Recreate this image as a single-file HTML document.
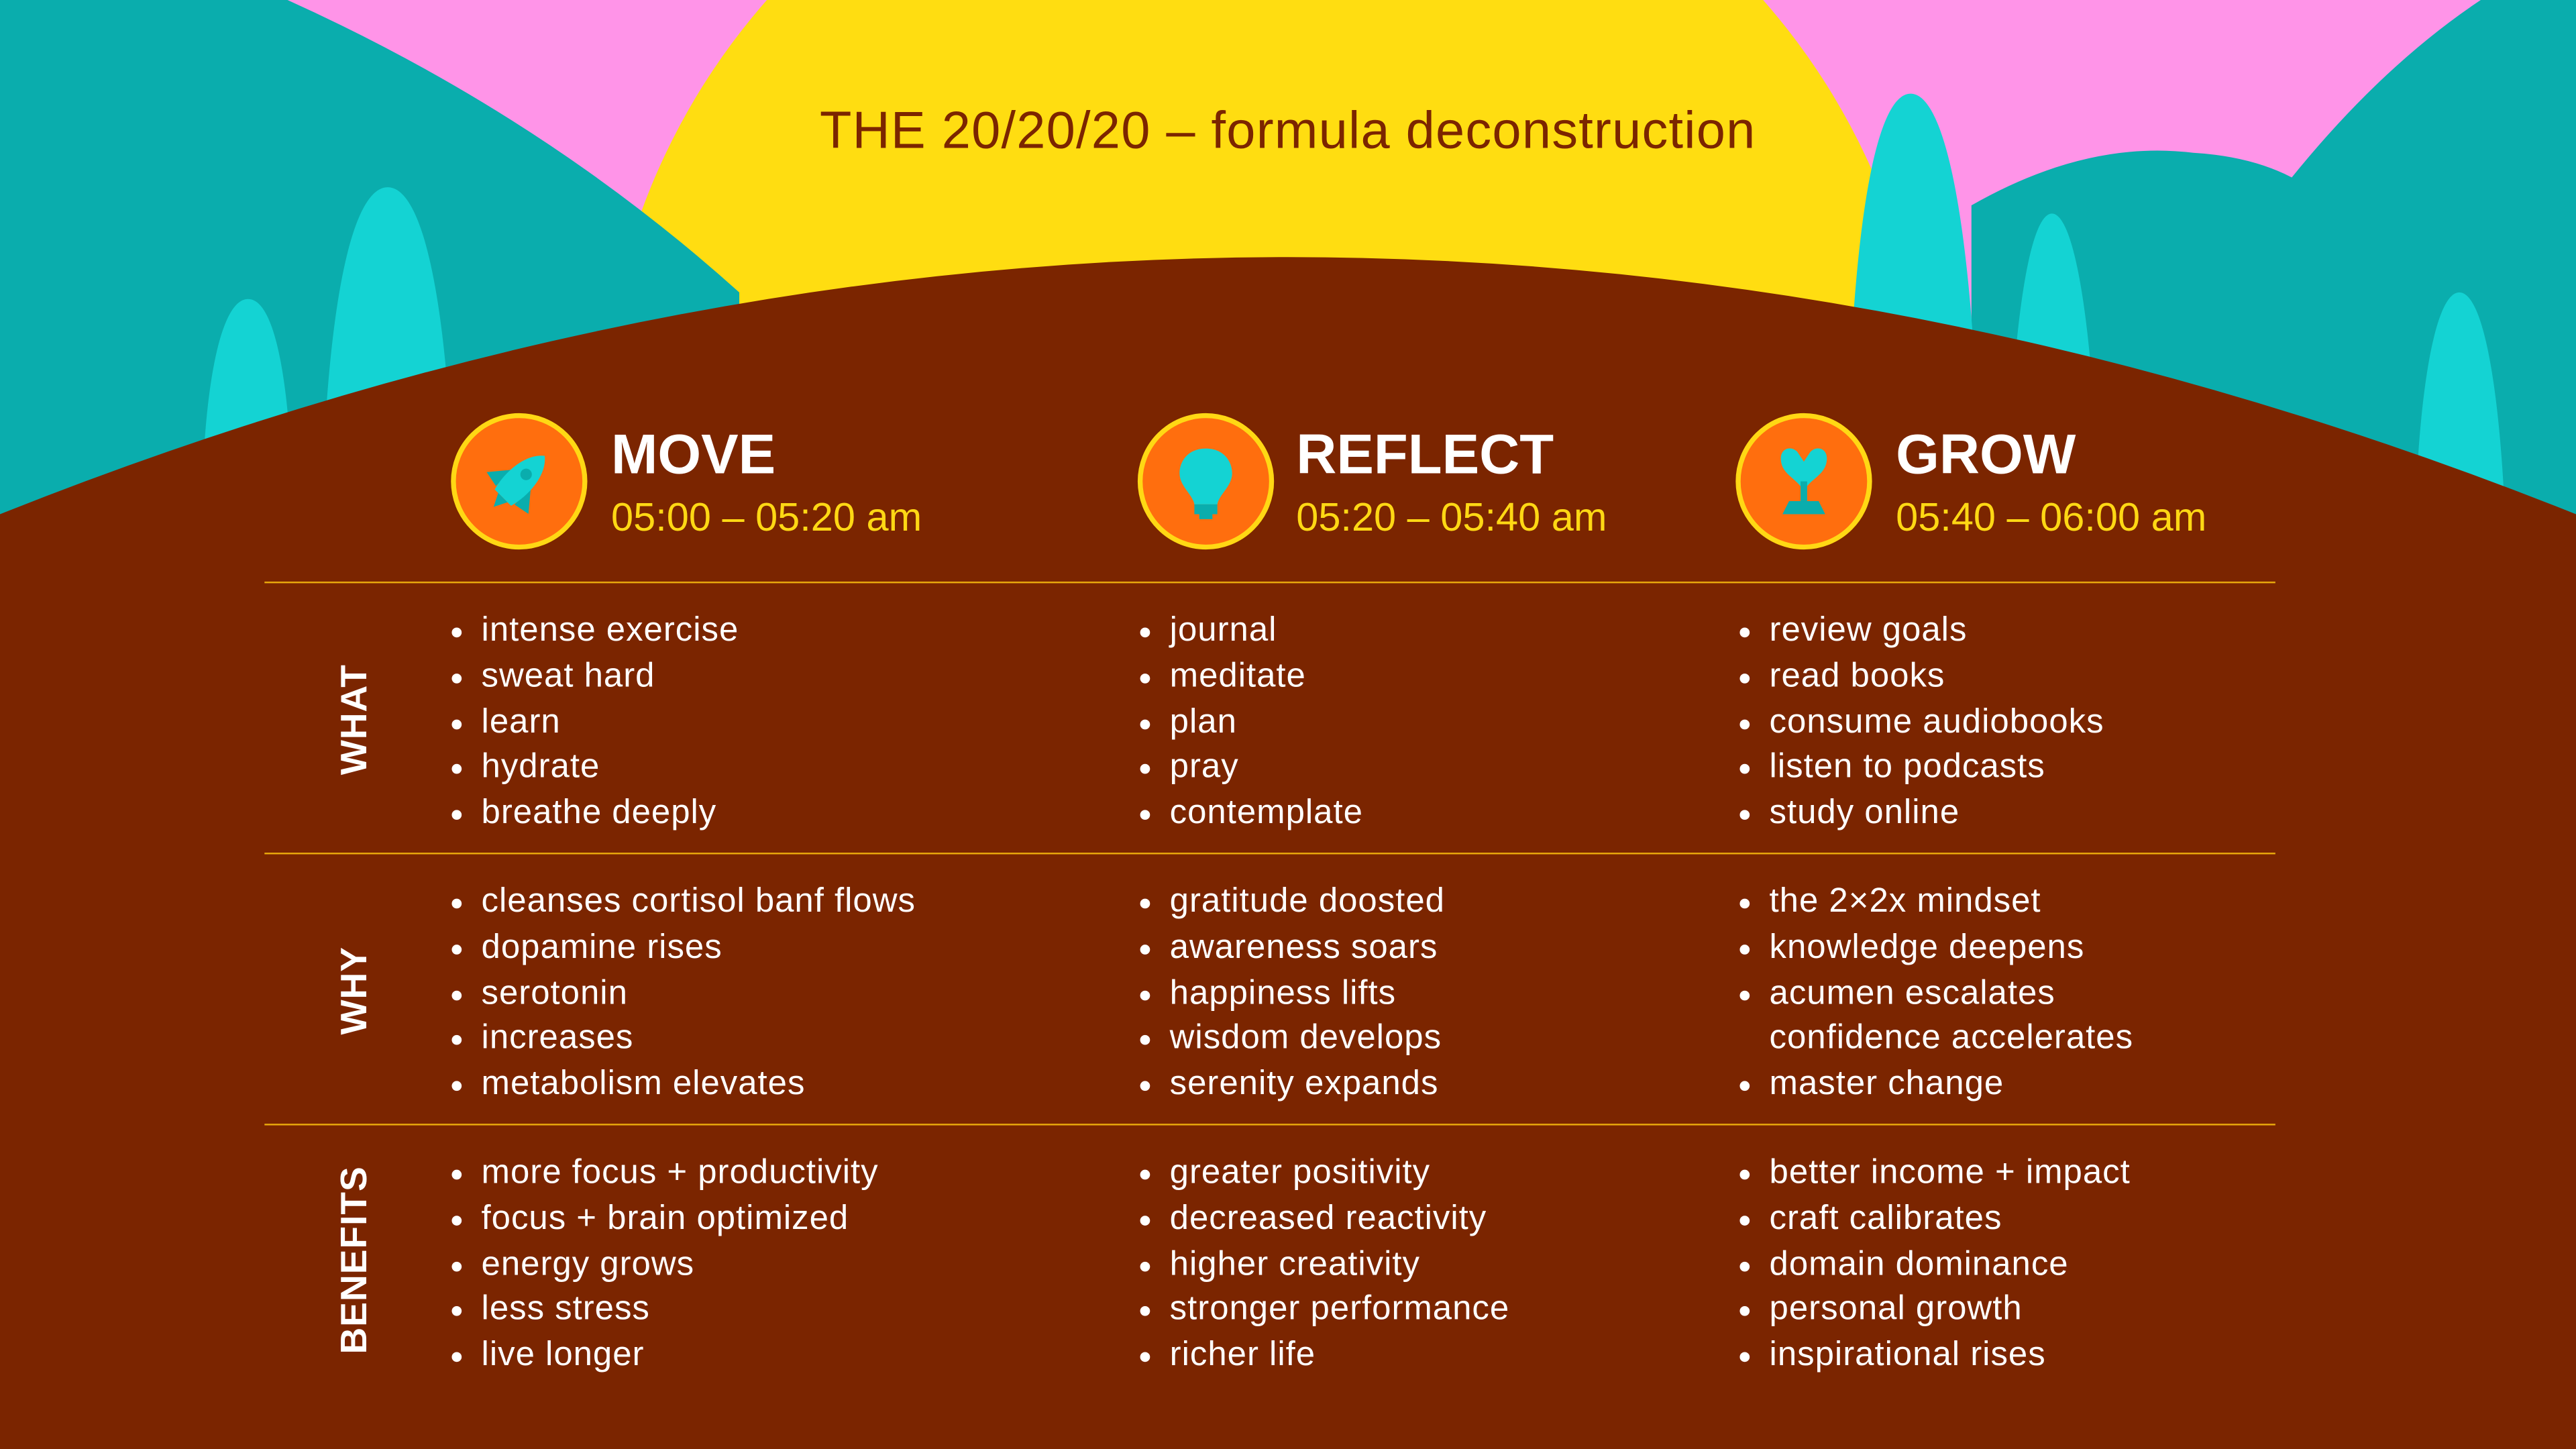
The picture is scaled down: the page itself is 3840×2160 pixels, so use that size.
<!DOCTYPE html>
<html><head><meta charset="utf-8"><style>
html,body{margin:0;padding:0;overflow:hidden;background:#FF94E8}
#s{position:absolute;left:0;top:0;width:1568px;height:882px;transform:scale(2.44898);transform-origin:0 0;font-family:"Liberation Sans",sans-serif}
.t{position:absolute;white-space:nowrap}
.h{font-weight:bold;color:#fff;font-size:34px;top:258px}
.tm{color:#FFD814;font-size:24.3px;top:302px}
.ln{position:absolute;left:161px;width:1224px;height:1px;background:#E8A80C}
.lab{position:absolute;left:216px;color:#fff;font-weight:bold;font-size:22.5px;letter-spacing:0.4px;transform:translate(-50%,-50%) rotate(-90deg);white-space:nowrap}
ul{position:absolute;margin:0;padding:0;list-style:none;color:#fff;font-size:20.8px;letter-spacing:0.4px;line-height:27.8px}
li{position:relative;padding-left:16px;white-space:nowrap}
li:before{content:"";position:absolute;left:-2px;top:12px;width:6px;height:6px;border-radius:50%;background:#fff}
li.n:before{display:none}
</style></head><body><div id="s">
<svg width="1568" height="882" style="position:absolute;left:0;top:0">
<circle cx="770" cy="267" r="404" fill="#FFDD11"/>
<path d="M0,0 L175,0 Q330,70 450,178 L450,420 L0,420 Z" fill="#0AADAD"/>
<path d="M1510,0 L1568,0 L1568,420 L1200,420 L1200,125 Q1270,85 1335,93 Q1370,95 1395,108 Q1450,40 1510,0 Z" fill="#0AADAD"/>
<g fill="#14D3D3">
<path d="M123,300 C125,230 135,182 151,182 C167,182 176,230 178,300 Z"/>
<path d="M196,300 C200,180 215,114 236,114 C257,114 272,180 276,300 Z"/>
<path d="M1124,300 C1126,150 1140,57 1163,57 C1186,57 1202,150 1205,300 Z"/>
<path d="M1222,300 C1225,200 1235,130 1249,130 C1263,130 1274,200 1277,300 Z"/>
<path d="M1470,320 C1472,240 1482,178 1497,178 C1512,178 1522,240 1525,320 Z"/>
</g>
<path d="M0,313 Q784,0 1568,313 L1568,882 L0,882 Z" fill="#7B2500"/>
<g stroke="#FFD814" stroke-width="3" fill="#FF6E0E">
<circle cx="316" cy="293" r="40"/><circle cx="734" cy="293" r="40"/><circle cx="1098" cy="293" r="40"/>
</g>
<g transform="translate(316,293) rotate(45)">
<path d="M-8,-2 L-18,10 L-8,12 Z M8,-2 L18,10 L8,12 Z" fill="#0AADAD"/>
<path d="M0,-22 C10,-14 10,4 7,14 L-7,14 C-10,4 -10,-14 0,-22 Z" fill="#14D3D3"/>
<circle cx="0" cy="-6" r="3.5" fill="#0AADAD"/>
<path d="M-4,14 L0,22 L4,14 Z" fill="#0AADAD"/>
</g>
<g transform="translate(734,293)">
<path d="M0,-20 C11,-20 16,-12 16,-5 C16,3 8,8 7,14 L-7,14 C-8,8 -16,3 -16,-5 C-16,-12 -11,-20 0,-20 Z" fill="#14D3D3"/>
<rect x="-7" y="14" width="14" height="6" fill="#0AADAD"/><rect x="-4" y="20" width="8" height="3" fill="#0AADAD"/>
</g>
<g transform="translate(1098,293)">
<path d="M0,6 C-4,-2 -14,-4 -14,-14 C-14,-20 -8,-22 -4,-18 L0,-12 L4,-18 C8,-22 14,-20 14,-14 C14,-4 4,-2 0,6 Z" fill="#14D3D3"/>
<rect x="-2" y="0" width="4" height="12" fill="#0AADAD"/>
<path d="M-13,20 L-9,12 L9,12 L13,20 Z" fill="#0AADAD"/>
</g>
</svg>
<div class="t" style="left:499px;top:61px;font-size:31.7px;letter-spacing:0.5px;color:#7B2500">THE 20/20/20 – formula deconstruction</div>
<div class="t h" style="left:372px">MOVE</div><div class="t tm" style="left:372px">05:00 – 05:20 am</div>
<div class="t h" style="left:789px">REFLECT</div><div class="t tm" style="left:789px">05:20 – 05:40 am</div>
<div class="t h" style="left:1154px">GROW</div><div class="t tm" style="left:1154px">05:40 – 06:00 am</div>
<div class="ln" style="top:354px"></div><div class="ln" style="top:519px"></div><div class="ln" style="top:684px"></div>
<div class="lab" style="top:438px">WHAT</div><div class="lab" style="top:603px">WHY</div><div class="lab" style="top:767px">BENEFITS</div>
<ul style="left:277px;top:370px"><li>intense exercise</li><li>sweat hard</li><li>learn</li><li>hydrate</li><li>breathe deeply</li></ul>
<ul style="left:696px;top:370px"><li>journal</li><li>meditate</li><li>plan</li><li>pray</li><li>contemplate</li></ul>
<ul style="left:1061px;top:370px"><li>review goals</li><li>read books</li><li>consume audiobooks</li><li>listen to podcasts</li><li>study online</li></ul>
<ul style="left:277px;top:535px"><li>cleanses cortisol banf flows</li><li>dopamine rises</li><li>serotonin</li><li>increases</li><li>metabolism elevates</li></ul>
<ul style="left:696px;top:535px"><li>gratitude doosted</li><li>awareness soars</li><li>happiness lifts</li><li>wisdom develops</li><li>serenity expands</li></ul>
<ul style="left:1061px;top:535px"><li>the 2×2x mindset</li><li>knowledge deepens</li><li>acumen escalates</li><li class="n">confidence accelerates</li><li>master change</li></ul>
<ul style="left:277px;top:700px"><li>more focus + productivity</li><li>focus + brain optimized</li><li>energy grows</li><li>less stress</li><li>live longer</li></ul>
<ul style="left:696px;top:700px"><li>greater positivity</li><li>decreased reactivity</li><li>higher creativity</li><li>stronger performance</li><li>richer life</li></ul>
<ul style="left:1061px;top:700px"><li>better income + impact</li><li>craft calibrates</li><li>domain dominance</li><li>personal growth</li><li>inspirational rises</li></ul>
</div></body></html>
